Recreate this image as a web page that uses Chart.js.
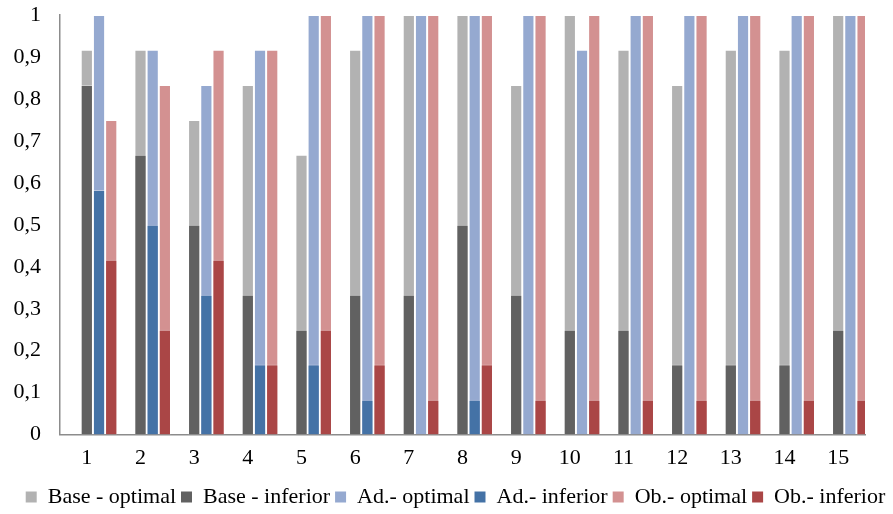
<!DOCTYPE html>
<html>
<head>
<meta charset="utf-8">
<script src="https://cdn.jsdelivr.net/npm/chart.js@4.4.1/dist/chart.umd.min.js"></script>
<style>
  body { margin: 0; background: #fff; }
  #wrap { width: 893px; height: 514px; }
</style>
</head>
<body>
<div id="wrap"><canvas id="chart"></canvas></div>
<script>
const categories = ['1', '2', '3', '4', '5', '6', '7', '8', '9', '10', '11', '12', '13', '14', '15'];
const yTicks = [0, 0.1, 0.2, 0.3, 0.4, 0.5, 0.6, 0.7, 0.8, 0.9, 1];

const baseOptimal  = [0.917, 0.917, 0.75, 0.833, 0.667, 0.917, 1, 1, 0.833, 1, 0.917, 0.833, 0.917, 0.917, 1];
const baseInferior = [0.833, 0.667, 0.5, 0.333, 0.25, 0.333, 0.333, 0.5, 0.333, 0.25, 0.25, 0.167, 0.167, 0.167, 0.25];
const adOptimal    = [1, 0.917, 0.833, 0.917, 1, 1, 1, 1, 1, 0.917, 1, 1, 1, 1, 1];
const adInferior   = [0.583, 0.5, 0.333, 0.167, 0.167, 0.083, 0, 0.083, 0, 0, 0, 0, 0, 0, 0];
const obOptimal    = [0.75, 0.833, 0.917, 0.917, 1, 1, 1, 1, 1, 1, 1, 1, 1, 1, 1];
const obInferior   = [0.417, 0.25, 0.417, 0.167, 0.25, 0.167, 0.083, 0.167, 0.083, 0.083, 0.083, 0.083, 0.083, 0.083, 0.083];

const FONT = '"Liberation Serif", "Times New Roman", serif';
const EDGE = 'rgba(255,255,255,0.35)';
const empty = categories.map(() => null);

// ghost stacks push the Base bar onto the category centre, like the original
const datasets = [
  { label: 'ghost1', data: empty, stack: 'g1', order: 0 },
  { label: 'ghost2', data: empty, stack: 'g2', order: 0 },
  { label: 'Base - optimal', data: baseOptimal, stack: 'base', backgroundColor: '#b2b2b2', order: 1 },
  { label: 'Base - inferior', data: baseInferior, stack: 'base', backgroundColor: '#616161', order: 0 },
  { label: 'Ad.- optimal', data: adOptimal, stack: 'ad', backgroundColor: '#95a9d0', order: 1 },
  { label: 'Ad.- inferior', data: adInferior, stack: 'ad', backgroundColor: '#4472a6', order: 0 },
  { label: 'Ob.- optimal', data: obOptimal, stack: 'ob', backgroundColor: '#d39191', order: 1 },
  { label: 'Ob.- inferior', data: obInferior, stack: 'ob', backgroundColor: '#aa4646', order: 0 }
];
datasets.forEach(d => { d.borderWidth = 1; d.borderColor = EDGE; });

new Chart(document.getElementById('chart'), {
  type: 'bar',
  data: { labels: categories, datasets: datasets },
  options: {
    responsive: true,
    maintainAspectRatio: false,
    animation: false,
    categoryPercentage: 1.136,
    barPercentage: 1,
    layout: { padding: { top: 15, right: -9, left: 9, bottom: -4 } },
    plugins: {
      tooltip: { enabled: false },
      legend: {
        position: 'bottom',
        labels: {
          color: '#000',
          font: { family: FONT, size: 22 },
          boxWidth: 11,
          boxHeight: 11,
          padding: 5,
          filter: (item) => !item.text.startsWith('ghost'),
          sort: (a, b) => a.datasetIndex - b.datasetIndex,
          generateLabels: (chart) => Chart.defaults.plugins.legend.labels.generateLabels(chart)
            .map(item => Object.assign(item, { lineWidth: 0 }))
        }
      }
    },
    scales: {
      x: {
        stacked: true,
        grid: { display: false, drawTicks: false },
        border: { display: true, color: '#8c8c8c', width: 1.5 },
        ticks: { color: '#000', font: { family: FONT, size: 22 }, padding: 10 }
      },
      y: {
        stacked: false,
        min: 0,
        max: 1,
        afterFit: (scale) => {
          scale.width = 51;
          scale.paddingTop = 0;
          scale.paddingBottom = 0;
        },
        afterBuildTicks: (scale) => { scale.ticks = yTicks.map(v => ({ value: v })); },
        grid: { display: false, drawTicks: false },
        border: { display: true, color: '#8c8c8c', width: 1.5 },
        ticks: {
          color: '#000',
          font: { family: FONT, size: 22 },
          padding: 19,
          callback: (v) => String(Math.round(v * 10) / 10).replace('.', ',')
        }
      },
      // empty right-hand margin
      yRight: {
        position: 'right',
        grid: { display: false, drawTicks: false },
        border: { display: false },
        ticks: { display: false },
        afterFit: (scale) => { scale.width = 37; }
      }
    }
  }
});
</script>
</body>
</html>
